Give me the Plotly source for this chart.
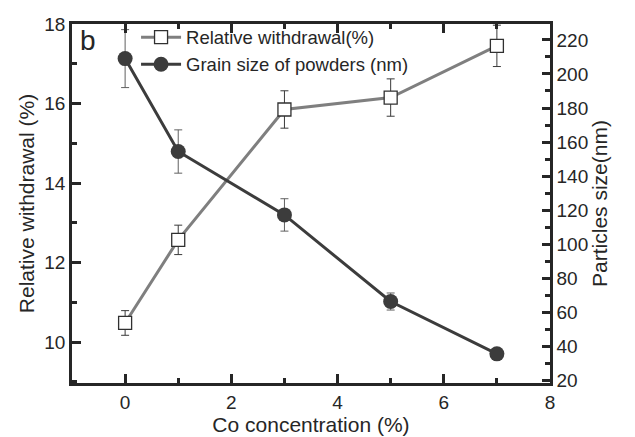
import plotly.graph_objects as go

# Co doping series
co_conc = [0, 1, 3, 5, 7]

# Relative withdrawal (%) with error
withdrawal = [10.48, 12.57, 15.85, 16.15, 17.45]
withdrawal_err = [0.31, 0.37, 0.47, 0.47, 0.52]

# Grain size of powders (nm) with error
grain_size = [209.0, 154.5, 117.3, 66.5, 35.8]
grain_err = [17.0, 12.7, 9.5, 5.0, 0.0]

FONT = "Liberation Sans, Arial, sans-serif"
AXIS_COLOR = "#262626"
TEXT_COLOR = "#262626"

fig = go.Figure()

fig.add_trace(go.Scatter(
    x=co_conc, y=withdrawal, name="Relative withdrawal(%)",
    mode="lines+markers",
    line=dict(color="#7f7f7f", width=3),
    marker=dict(symbol="square", size=13, color="white",
                line=dict(color="#303030", width=1.3)),
    error_y=dict(type="data", array=withdrawal_err, visible=True,
                 color="#3a3a3a", thickness=1, width=4),
    yaxis="y",
))

fig.add_trace(go.Scatter(
    x=co_conc, y=grain_size, name="Grain size of powders (nm)",
    mode="lines+markers",
    line=dict(color="#3c3c3c", width=3),
    marker=dict(symbol="circle", size=15, color="#3c3c3c"),
    error_y=dict(type="data", array=grain_err, visible=True,
                 color="#606060", thickness=1, width=4),
    yaxis="y2",
))

fig.add_annotation(text="b", xref="paper", yref="paper", x=0.012, y=1.002,
                   xanchor="left", yanchor="top", showarrow=False,
                   font=dict(family=FONT, size=28, color=TEXT_COLOR))

common = dict(showline=True, linecolor=AXIS_COLOR, linewidth=2.5,
              ticks="inside", tickcolor=AXIS_COLOR, tickwidth=2.5,
              showgrid=False, zeroline=False, automargin=False,
              tickfont=dict(family=FONT, size=19, color=TEXT_COLOR))
title_font = dict(family=FONT, size=21, color=TEXT_COLOR)

fig.update_layout(
    width=635, height=437,
    margin=dict(l=72, r=85, t=24, b=54),
    paper_bgcolor="white", plot_bgcolor="white",
    font=dict(family=FONT, color=TEXT_COLOR),
    showlegend=True,
    legend=dict(x=0.134, y=1.015, xanchor="left", yanchor="top",
                bgcolor="rgba(0,0,0,0)", tracegroupgap=0,
                font=dict(family=FONT, size=18.5, color=TEXT_COLOR),
                itemwidth=40),
    xaxis=dict(range=[-1, 8], dtick=2, tick0=0, ticklen=9, mirror="ticks",
               minor=dict(dtick=1, tick0=0, ticklen=5, ticks="inside",
                          tickcolor=AXIS_COLOR, tickwidth=2.5),
               title=dict(text="Co concentration (%)", font=title_font,
                          standoff=4),
               **common),
    yaxis=dict(range=[8.97, 18], dtick=2, tick0=10, ticklen=9,
               minor=dict(dtick=1, tick0=10, ticklen=5, ticks="inside",
                          tickcolor=AXIS_COLOR, tickwidth=2.5),
               title=dict(text="Relative withdrawal (%)", font=title_font,
                          standoff=4),
               **common),
    yaxis2=dict(range=[18.7, 229.3], dtick=20, tick0=20, ticklen=8,
                overlaying="y", side="right",
                minor=dict(dtick=10, tick0=20, ticklen=5, ticks="inside",
                           tickcolor=AXIS_COLOR, tickwidth=2.5),
                title=dict(text="Particles size(nm)", font=title_font,
                           standoff=4),
                **common),
)

fig.write_html("out.html")
